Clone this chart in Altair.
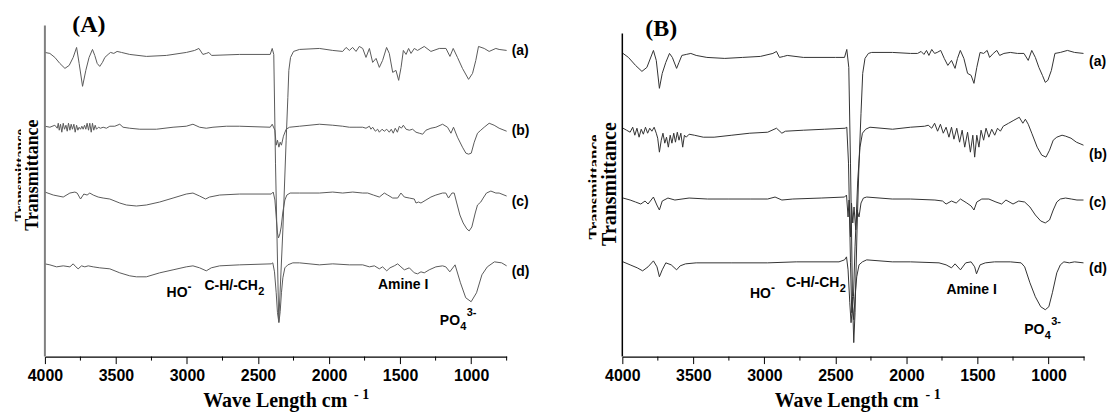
import altair as alt
import pandas as pd

# ---------------- data (wavenumber cm-1, transmittance in arbitrary offset units) -------------
WAVE_MAJOR = [4000, 3500, 3000, 2500, 2000, 1500, 1000]
WAVE_MINOR = [3750, 3250, 2750, 2250, 1750, 1250, 750]
SERIES = ["(a)", "(b)", "(c)", "(d)"]

A_a = [(4000,305),(3965,304),(3930,300),(3895,294),(3859,289),(3829,292),(3801,300),(3777,310),(3759,294),
       (3735,271),(3712,287),(3689,300),(3665,308),(3649,302),(3632,294),(3614,291),(3595,295),(3578,300),
       (3555,303),(3538,305),(3515,304),(3492,306),(3461,305),(3403,303),(3285,301),(3145,302),(3004,305),
       (2946,307),(2916,309),(2888,303),(2864,304),(2846,305),(2827,302),(2630,303),(2414,303),(2400,309),
       (2389,303),(2377,194),(2354,35),(2325,127),(2302,217),(2290,260),(2283,287),(2271,300),(2250,306),
       (2208,308),(2068,309),(1974,307),(1904,306),(1880,310),(1857,307),(1834,310),(1810,306),(1787,311),
       (1763,309),(1740,300),(1716,309),(1693,295),(1669,299),(1646,290),(1623,297),(1595,310),(1576,304),
       (1552,285),(1529,287),(1510,277),(1493,290),(1477,307),(1458,303),(1440,309),(1423,304),(1400,309),
       (1377,307),(1330,311),(1283,306),(1224,309),(1177,309),(1149,301),(1126,309),(1096,300),(1061,289),
       (1018,278),(990,284),(967,297),(948,311),(908,309),(873,306),(826,309),(803,308),(750,307)]

A_b = [(4000,231),(3965,230),(3930,232),(3913,229),(3906,234),(3899,227),(3890,233),(3881,225),(3871,234),
       (3862,228),(3852,232),(3843,226),(3834,234),(3824,227),(3815,233),(3806,228),(3796,233),(3787,225),
       (3777,232),(3768,227),(3759,230),(3749,228),(3740,231),(3731,228),(3721,232),(3712,228),(3703,234),
       (3693,227),(3684,234),(3674,225),(3665,234),(3656,227),(3646,232),(3637,228),(3623,230),(3609,229),
       (3590,230),(3567,229),(3543,231),(3508,231),(3473,233),(3450,230),(3403,229),(3332,228),(3215,228),
       (3098,230),(3005,231),(2958,233),(2911,230),(2864,229),(2817,230),(2723,231),(2630,231),(2414,230),
       (2400,233),(2381,227),(2372,212),(2363,217),(2353,210),(2344,215),(2335,212),(2321,221),(2302,228),
       (2278,230),(2208,231),(2068,233),(1974,232),(1904,231),(1857,230),(1810,230),(1763,230),(1740,229),
       (1716,231),(1705,228),(1693,230),(1674,226),(1658,228),(1646,225),(1627,228),(1611,226),(1594,228),
       (1576,225),(1562,228),(1548,224),(1534,229),(1519,225),(1505,231),(1491,229),(1477,232),(1458,228),
       (1435,227),(1412,228),(1388,225),(1365,224),(1341,223),(1318,227),(1283,229),(1248,230),(1201,233),
       (1166,230),(1142,224),(1124,230),(1096,220),(1061,210),(1037,204),(1018,203),(999,204),(978,215),
       (955,224),(932,227),(908,230),(873,234),(838,232),(803,229),(750,226)]

A_c = [(4000,165),(3941,162),(3871,160),(3824,164),(3789,165),(3773,164),(3749,158),(3726,163),(3703,162),
       (3684,164),(3660,162),(3625,160),(3590,159),(3543,158),(3473,154),(3426,152),(3356,151),(3286,152),
       (3192,155),(3098,159),(3005,163),(2958,164),(2911,161),(2869,158),(2841,160),(2770,162),(2630,163),
       (2407,163),(2393,165),(2381,157),(2372,140),(2363,124),(2356,119),(2346,123),(2337,130),(2325,145),
       (2311,157),(2297,162),(2274,164),(2208,164),(2068,164),(1974,165),(1904,164),(1833,165),(1763,164),
       (1728,164),(1688,162),(1646,160),(1611,164),(1587,162),(1552,159),(1517,159),(1494,164),(1470,160),
       (1435,159),(1400,158),(1388,154),(1370,155),(1353,154),(1318,157),(1283,160),(1248,162),(1201,164),
       (1178,164),(1159,159),(1135,164),(1119,164),(1103,155),(1079,142),(1056,134),(1030,128),(1014,126),
       (995,130),(971,144),(955,152),(932,155),(915,159),(892,164),(861,166),(826,164),(803,164),(750,161)]

A_d = [(4000,93),(3965,92),(3918,90),(3871,91),(3824,90),(3801,93),(3782,90),(3766,88),(3742,91),(3719,90),
       (3695,91),(3660,90),(3614,89),(3543,88),(3473,84),(3403,81),(3356,80),(3286,80),(3192,84),(3098,87),
       (3005,90),(2958,91),(2911,89),(2864,86),(2829,89),(2770,91),(2630,92),(2407,93),(2396,94),(2384,85),
       (2372,64),(2363,44),(2353,34),(2344,45),(2335,64),(2325,79),(2311,89),(2290,92),(2255,94),(2208,94),
       (2068,92),(1974,93),(1857,92),(1763,92),(1716,90),(1681,91),(1646,88),(1623,90),(1594,86),(1571,89),
       (1541,91),(1517,93),(1494,90),(1470,87),(1435,89),(1400,84),(1377,83),(1353,85),(1330,84),(1295,87),
       (1248,90),(1201,91),(1178,90),(1150,85),(1113,92),(1075,74),(1038,59),(1000,55),(962,64),(924,82),
       (886,90),(836,95),(785,94),(750,91)]

B_a = [(3995,304),(3957,300),(3907,292),(3862,286),(3827,290),(3781,307),(3761,297),(3739,269),(3719,284),
       (3694,295),(3668,304),(3648,300),(3618,289),(3601,295),(3581,302),(3550,303),(3518,304),(3480,302),
       (3405,300),(3279,299),(3153,300),(3028,301),(2940,304),(2915,306),(2894,300),(2864,301),(2839,302),
       (2726,300),(2500,300),(2436,300),(2420,308),(2406,290),(2394,194),(2380,60),(2371,14),(2362,44),
       (2348,127),(2334,194),(2320,244),(2308,284),(2292,299),(2268,304),(2245,305),(2098,305),(1972,304),
       (1922,304),(1897,306),(1877,303),(1859,307),(1842,302),(1822,308),(1802,304),(1784,305),(1759,307),
       (1734,299),(1709,292),(1683,297),(1658,289),(1641,299),(1621,307),(1596,299),(1570,284),(1545,282),
       (1525,274),(1505,290),(1482,305),(1457,304),(1432,307),(1415,300),(1389,304),(1364,307),(1344,302),
       (1314,304),(1269,305),(1219,304),(1173,304),(1143,297),(1118,307),(1093,300),(1068,290),(1043,282),
       (1023,275),(1005,277),(980,287),(955,304),(917,305),(867,307),(817,305),(754,304)]

B_b = [(3995,229),(3970,227),(3945,225),(3927,230),(3912,222),(3897,229),(3882,220),(3867,228),(3852,223),
       (3837,230),(3822,224),(3807,229),(3792,226),(3776,230),(3761,224),(3751,219),(3739,205),(3726,217),
       (3714,224),(3701,214),(3689,220),(3676,210),(3663,222),(3651,214),(3638,224),(3626,215),(3613,225),
       (3601,217),(3588,224),(3575,210),(3563,222),(3550,220),(3530,223),(3493,222),(3430,220),(3354,220),
       (3229,222),(3103,224),(2977,225),(2915,229),(2877,224),(2852,226),(2726,227),(2576,228),(2432,229),
       (2420,230),(2408,194),(2394,94),(2385,44),(2373,60),(2362,110),(2343,177),(2327,210),(2310,224),
       (2287,228),(2257,230),(2098,228),(1972,230),(1872,231),(1847,232),(1822,229),(1802,234),(1781,226),
       (1761,233),(1741,224),(1721,230),(1701,220),(1683,230),(1666,218),(1646,229),(1626,215),(1608,227),
       (1590,210),(1570,225),(1550,205),(1533,222),(1520,200),(1505,222),(1490,210),(1475,227),(1457,217),
       (1440,229),(1420,220),(1400,228),(1379,222),(1359,229),(1339,226),(1319,231),(1281,234),(1244,237),
       (1206,240),(1181,234),(1163,238),(1143,233),(1118,224),(1080,210),(1048,202),(1018,200),(993,207),
       (967,217),(942,220),(905,222),(879,221),(842,219),(804,215),(754,212)]

B_c = [(3995,159),(3945,157),(3907,155),(3870,153),(3840,156),(3819,153),(3781,160),(3757,152),(3739,147),
       (3719,156),(3679,159),(3630,157),(3580,158),(3530,159),(3400,158),(3250,158),(3100,158),(2977,158),
       (2925,160),(2877,157),(2800,158),(2600,159),(2436,160),(2422,162),(2411,140),(2404,157),(2394,120),
       (2387,154),(2378,134),(2369,150),(2357,127),(2348,147),(2334,140),(2320,154),(2303,159),(2280,160),
       (2100,158),(1972,158),(1800,157),(1746,156),(1721,153),(1683,156),(1650,154),(1620,158),(1575,154),
       (1545,151),(1525,147),(1505,155),(1470,158),(1420,158),(1370,155),(1330,153),(1300,157),(1250,153),
       (1210,156),(1168,155),(1131,150),(1093,142),(1055,136),(1023,134),(993,137),(967,147),(942,155),
       (917,158),(880,159),(840,158),(800,157),(754,157)]

B_d = [(3995,95),(3945,92),(3895,89),(3857,86),(3819,90),(3781,96),(3756,90),(3739,80),(3719,87),(3694,94),
       (3656,92),(3618,87),(3593,91),(3555,93),(3480,94),(3229,94),(2977,94),(2776,95),(2475,95),(2436,97),
       (2422,100),(2411,87),(2399,54),(2390,34),(2380,50),(2371,37),(2362,60),(2350,80),(2334,92),(2310,95),
       (2280,97),(2100,95),(1972,95),(1771,94),(1721,92),(1683,89),(1658,93),(1620,87),(1583,94),(1545,95),
       (1520,90),(1507,83),(1482,92),(1445,94),(1380,95),(1269,95),(1193,94),(1168,90),(1131,74),(1093,60),
       (1055,50),(1023,47),(998,50),(973,64),(942,84),(917,92),(892,95),(854,94),(817,95),(754,94)]

# ---------------- styling constants ----------------
W, H = 463, 332
SERIF = "Liberation Serif"
SANS = "Liberation Sans"


def traces_df(traces):
    rows = []
    for name, pts in zip(SERIES, traces):
        for i, (w, h) in enumerate(pts):
            rows.append({"w": w, "h": h, "s": name, "i": i})
    return pd.DataFrame(rows)


def txt(text, x, y, size, font=SANS, align="left", baseline="middle", angle=0, color="black"):
    return alt.Chart(pd.DataFrame({"t": [text]})).mark_text(
        font=font, fontSize=size, fontWeight="bold", align=align, baseline=baseline,
        angle=angle, color=color
    ).encode(x=alt.value(x), y=alt.value(y), text="t:N")


def panel(traces, cfg):
    xscale = alt.Scale(domain=[750, 4000], reverse=True, nice=False, zero=False)
    yscale = alt.Scale(domain=[0, H], nice=False, zero=False)
    xaxis = alt.Axis(
        values=WAVE_MAJOR, format="d", tickSize=7, tickColor="black", tickWidth=1,
        domainColor="black", domainWidth=1.2, labelFont=SANS, labelFontWeight="bold",
        labelFontSize=16, labelColor="black", labelPadding=4, labelFlush=False,
        grid=False, title=None)

    lines = alt.Chart(traces_df(traces)).mark_line(
        color=cfg["line_color"], strokeWidth=1, interpolate="linear"
    ).encode(
        x=alt.X("w:Q", scale=xscale, axis=xaxis),
        y=alt.Y("h:Q", scale=yscale, axis=None),
        detail="s:N",
        order="i:Q",
    )

    minor = alt.Chart(pd.DataFrame({"w": WAVE_MINOR})).mark_rule(color="black", strokeWidth=1).encode(
        x=alt.X("w:Q", scale=xscale, axis=xaxis), y=alt.value(H), y2=alt.value(H + 4)
    )

    yline = alt.Chart(pd.DataFrame({"k": [0]})).mark_rule(
        color=cfg["yaxis_color"], strokeWidth=cfg["yaxis_width"]
    ).encode(x=alt.value(0), y=alt.value(cfg["yaxis_top"]), y2=alt.value(H))

    layers = [lines, minor, yline]

    # y title (with the ghosted duplicate partly hidden behind it)
    gx, gy, gs = cfg["ghost"]
    layers.append(txt("Transmittance", gx, gy, gs, font=SERIF, align="center", angle=270))
    mx0, mx1, my0, my1 = cfg["mask"]
    layers.append(alt.Chart(pd.DataFrame({"k": [0]})).mark_rect(color="white").encode(
        x=alt.value(mx0), x2=alt.value(mx1), y=alt.value(my0), y2=alt.value(my1)))
    tx, ty, ts = cfg["ytitle"]
    layers.append(txt("Transmittance", tx, ty, ts, font=SERIF, align="center", angle=270))

    # panel letter
    px_, py_ = cfg["letter_pos"]
    layers.append(txt(cfg["letter"], px_, py_, 24, font=SERIF, align="center"))

    # series labels
    for lab, ly in zip(SERIES, cfg["label_y"]):
        layers.append(txt(lab, cfg["label_x"], ly, 14))

    # band annotations
    hx, hy = cfg["HO"]
    layers.append(txt("HO", hx, hy, 14))
    layers.append(txt("-", hx + 21, hy - 6, 12))
    cx, cy = cfg["CH"]
    layers.append(txt("C-H/-CH", cx, cy, 14))
    layers.append(txt("2", cx + 54, cy + 6, 11))
    ax_, ay_ = cfg["amine"]
    layers.append(txt("Amine I", ax_, ay_, 14))
    ppx, ppy = cfg["PO"]
    layers.append(txt("PO", ppx, ppy, 14))
    layers.append(txt("4", ppx + 20.5, ppy + 6, 11))
    layers.append(txt("3-", ppx + 27, ppy - 8, 11))

    # x title with superscript
    xt, yt = cfg["xtitle"]
    layers.append(txt("Wave Length cm", xt, yt, 20, font=SERIF, align="center", baseline="alphabetic"))
    layers.append(txt("- 1", xt + 79, yt - 8, 14, font=SERIF, align="left", baseline="alphabetic"))

    return alt.layer(*layers).properties(width=W, height=H)


cfg_A = dict(
    line_color="#5a5a5a", yaxis_color="#808080", yaxis_width=2, yaxis_top=0,
    ghost=(-25, 150, 15), mask=(-24, -14, 95, 210), ytitle=(-11.5, 150, 18),
    letter="(A)", letter_pos=(44, 0),
    label_x=468, label_y=[26, 106, 177, 247],
    HO=(122, 268), CH=(160, 261), amine=(334, 260), PO=(396, 296),
    xtitle=(231, 383),
)
cfg_B = dict(
    line_color="#333333", yaxis_color="black", yaxis_width=1.5, yaxis_top=8,
    ghost=(-27, 162, 17), mask=(-26, -15, 100, 235), ytitle=(-12, 159, 20),
    letter="(B)", letter_pos=(39, 4),
    label_x=468, label_y=[37, 130, 178, 244],
    HO=(128, 269), CH=(164, 258), amine=(325, 265), PO=(403, 305),
    xtitle=(225, 383),
)

chart = alt.hconcat(
    panel([A_a, A_b, A_c, A_d], cfg_A),
    panel([B_a, B_b, B_c, B_d], cfg_B),
    spacing=116, bounds="flush",
).properties(
    padding={"left": 5, "top": 5, "right": 0, "bottom": 0}, background="white"
).configure_view(stroke=None)

chart.save("out.html", embed_options={"renderer": "svg", "actions": False})
